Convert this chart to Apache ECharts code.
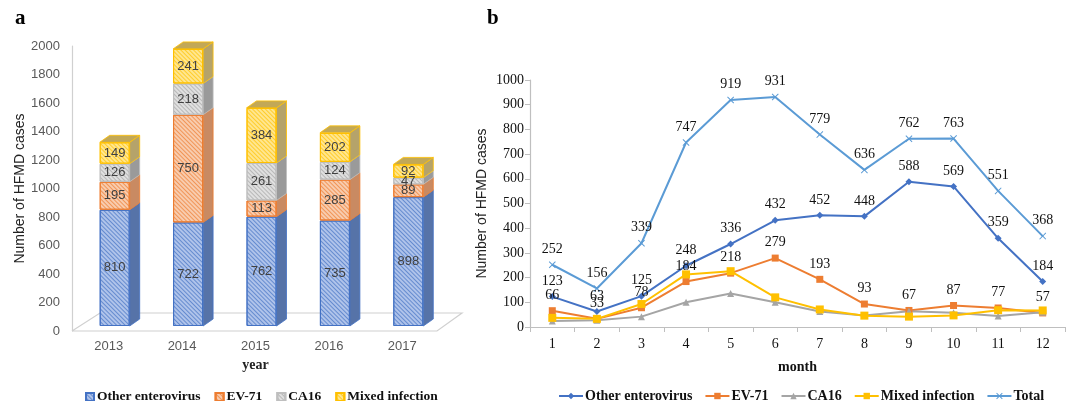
<!DOCTYPE html>
<html><head><meta charset="utf-8">
<script src="https://cdn.jsdelivr.net/npm/echarts@6/dist/echarts.min.js"></script>
<style>
html,body{margin:0;padding:0;background:#fff;}
#wrap{position:relative;width:1072px;height:401px;}
#ca{position:absolute;left:0;top:0;width:480px;height:401px;}
#cb{position:absolute;left:460px;top:0;width:612px;height:401px;}
</style>
</head><body><div id="wrap"><div id="ca"></div><div id="cb"></div></div>
<script>
// ---- panel a data ----
const years = ['2013', '2014', '2015', '2016', '2017'];
const yearOther = [810, 722, 762, 735, 898];
const yearEV71 = [195, 750, 113, 285, 89];
const yearCA16 = [126, 218, 261, 124, 47];
const yearMixed = [149, 241, 384, 202, 92];
const seriesNamesA = ['Other enterovirus', 'EV-71', 'CA16', 'Mixed infection'];

// ---- panel b data ----
const months = ['1','2','3','4','5','6','7','8','9','10','11','12'];
const monOther = [123, 63, 125, 248, 336, 432, 452, 448, 588, 569, 359, 184];
const monEV71 = [66, 33, 78, 184, 218, 279, 193, 93, 67, 87, 77, 57];
const monCA16 = [24, 27, 42, 100, 136, 100, 63, 47, 64, 58, 45, 60];
const monMixed = [37, 33, 93, 213, 226, 120, 71, 46, 42, 47, 68, 67];
const monTotal = [252, 156, 339, 747, 919, 931, 779, 636, 762, 763, 551, 368];

const SANS = 'Liberation Sans, Arial, sans-serif';
const SERIF = 'Liberation Serif, Times New Roman, serif';
const plain = v => String(v);

// ================= panel a =================
const stacksA = [yearOther, yearEV71, yearCA16, yearMixed];
const frontColors = ['#AFC3EA', '#F8CCAE', '#E0E0E0', '#FFE68F'];
const stripeColors = ['#4472C4', '#ED7D31', '#A5A5A5', '#FFC000'];
const borderColors = ['#4472C4', '#ED7D31', '#BFBFBF', '#FFC000'];
const sideColors = ['#5673A8', '#C98A62', '#9A9A9A', '#B5A36A'];
const topColors = ['#6C8BC4', '#D68E60', '#A8A8A8', '#C2A857'];

const depthData = [];
years.forEach((y, i) => {
  let base = 0;
  stacksA.forEach((arr, s) => {
    const top = base + arr[i];
    depthData.push([i, base, top, s, s === stacksA.length - 1 ? 1 : 0]);
    base = top;
  });
});

const chartA = echarts.init(document.getElementById('ca'), null, {renderer: 'canvas'});
const barSeries = stacksA.map((arr, s) => ({
  type: 'bar', name: seriesNamesA[s], stack: 'a', xAxisIndex: 1, yAxisIndex: 1,
  barWidth: 30, data: arr,
  itemStyle: {
    color: frontColors[s], borderColor: borderColors[s], borderWidth: 1,
    decal: {symbol: 'rect', symbolSize: 1, dashArrayX: [1, 0], dashArrayY: [1, 2],
            rotation: Math.PI / 4, color: stripeColors[s] + 'B0'}
  },
  label: {show: true, position: 'inside', color: '#404040', fontFamily: SANS, fontSize: 13},
  z: 3
}));

chartA.setOption({
  animation: false,
  title: {text: 'a', left: 10, top: 3, textStyle: {fontFamily: SERIF, fontWeight: 'bold', fontSize: 21, color: '#000'}},
  graphic: [{
    type: 'polyline', z: 0,
    shape: {points: [[72, 331], [437, 331], [462, 313], [100, 313], [72, 331]]},
    style: {stroke: '#D0D0D0', lineWidth: 1.2, fill: null}
  }],
  grid: [
    {left: 72, top: 46, width: 367, height: 285, outerBoundsMode: 'none', containLabel: false},
    {left: 78, top: 39, width: 367, height: 287, outerBoundsMode: 'none', containLabel: false}
  ],
  xAxis: [
    {type: 'category', gridIndex: 0, data: years, axisLine: {show: false}, axisTick: {show: false},
     axisLabel: {color: '#595959', fontFamily: SANS, fontSize: 13, margin: 9},
     name: 'year', nameLocation: 'middle', nameGap: 27, nameMoveOverlap: false,
     nameTextStyle: {fontFamily: SERIF, fontWeight: 'bold', fontSize: 14, color: '#222'}},
    {type: 'category', gridIndex: 1, data: years, show: false}
  ],
  yAxis: [
    {type: 'value', gridIndex: 0, min: 0, max: 2000, interval: 200,
     axisLine: {show: true, lineStyle: {color: '#D0D0D0', width: 1.2}}, axisTick: {show: false},
     splitLine: {show: false},
     axisLabel: {color: '#595959', fontFamily: SANS, fontSize: 13, margin: 12, formatter: plain},
     name: 'Number of HFMD cases', nameLocation: 'middle', nameGap: 45, nameMoveOverlap: false,
     nameTextStyle: {fontFamily: SANS, fontSize: 14, color: '#222'}},
    {type: 'value', gridIndex: 1, min: 0, max: 2000, show: false}
  ],
  legend: {
    data: seriesNamesA, left: 80, top: 385, icon: 'rect', itemWidth: 8, itemHeight: 8, itemGap: 14,
    textStyle: {fontFamily: SERIF, fontWeight: 'bold', fontSize: 13.5, color: '#111', padding: [0, 0, 0, -2]}
  },
  series: barSeries.concat([{
    type: 'custom', name: 'depth', xAxisIndex: 1, yAxisIndex: 1, data: depthData, z: 2,
    encode: {x: 0, y: [1, 2]},
    renderItem: function (params, api) {
      const i = api.value(0), b = api.value(1), t = api.value(2), s = api.value(3), isTop = api.value(4);
      const p0 = api.coord([i, b]);
      const p1 = api.coord([i, t]);
      const hw = 15, dx = 10, dy = 7;
      const xl = p0[0] - hw, xr = p0[0] + hw;
      const children = [{
        type: 'polygon',
        shape: {points: [[xr, p1[1]], [xr + dx, p1[1] - dy], [xr + dx, p0[1] - dy], [xr, p0[1]]]},
        style: {fill: sideColors[s], stroke: borderColors[s], lineWidth: 0.8}
      }];
      if (isTop) {
        children.push({
          type: 'polygon',
          shape: {points: [[xl, p1[1]], [xr, p1[1]], [xr + dx, p1[1] - dy], [xl + dx, p1[1] - dy]]},
          style: {fill: topColors[s], stroke: borderColors[s], lineWidth: 0.8}
        });
      }
      return {type: 'group', children: children};
    }
  }])
});

// ================= panel b (div starts at x=460) =================
const chartB = echarts.init(document.getElementById('cb'), null, {renderer: 'canvas'});
const xSym = 'path://M0,1L1,0L5,4L9,0L10,1L6,5L10,9L9,10L5,6L1,10L0,9L4,5Z';
function lineS(name, data, color, symbol, size, showLabel) {
  return {
    type: 'line', name: name, data: data, symbol: symbol, symbolSize: size, showAllSymbol: true,
    lineStyle: {color: color, width: 2}, itemStyle: {color: color},
    label: {show: showLabel, position: 'top', distance: 5, color: '#111', fontFamily: SERIF, fontSize: 14}
  };
}
chartB.setOption({
  animation: false,
  title: {text: 'b', left: 22, top: 3, textStyle: {fontFamily: SERIF, fontWeight: 'bold', fontSize: 21, color: '#000'}},
  grid: {left: 70, top: 80, width: 535, height: 247, outerBoundsMode: 'none', containLabel: false},
  xAxis: {
    type: 'category', data: months, boundaryGap: true,
    axisLine: {lineStyle: {color: '#BFBFBF', width: 1.2}},
    axisTick: {show: true, length: 5, lineStyle: {color: '#BFBFBF'}},
    axisLabel: {color: '#111', fontFamily: SERIF, fontSize: 14, margin: 10},
    name: 'month', nameLocation: 'middle', nameGap: 33, nameMoveOverlap: false,
    nameTextStyle: {fontFamily: SERIF, fontWeight: 'bold', fontSize: 14, color: '#111'}
  },
  yAxis: {
    type: 'value', min: 0, max: 1000, interval: 100,
    axisLine: {show: true, lineStyle: {color: '#BFBFBF', width: 1.2}},
    axisTick: {show: true, length: 5, lineStyle: {color: '#BFBFBF'}},
    splitLine: {show: false},
    axisLabel: {color: '#111', fontFamily: SERIF, fontSize: 14, margin: 6, formatter: plain},
    name: 'Number of HFMD cases', nameLocation: 'middle', nameGap: 41, nameMoveOverlap: false,
    nameTextStyle: {fontFamily: SANS, fontSize: 14, color: '#222'}
  },
  legend: {
    data: ['Other enterovirus', 'EV-71', 'CA16', 'Mixed infection', 'Total'],
    left: 93, top: 384, itemWidth: 24, itemHeight: 8, itemGap: 12,
    textStyle: {fontFamily: SERIF, fontWeight: 'bold', fontSize: 14, color: '#111', padding: [0, 0, 0, -3]}
  },
  series: [
    lineS('Other enterovirus', monOther, '#4472C4', 'diamond', 7, true),
    lineS('EV-71', monEV71, '#ED7D31', 'rect', 7, true),
    lineS('CA16', monCA16, '#A5A5A5', 'triangle', 7, false),
    lineS('Mixed infection', monMixed, '#FFC000', 'rect', 8, false),
    lineS('Total', monTotal, '#5B9BD5', xSym, 7, true)
  ]
});
</script>
</body></html>
